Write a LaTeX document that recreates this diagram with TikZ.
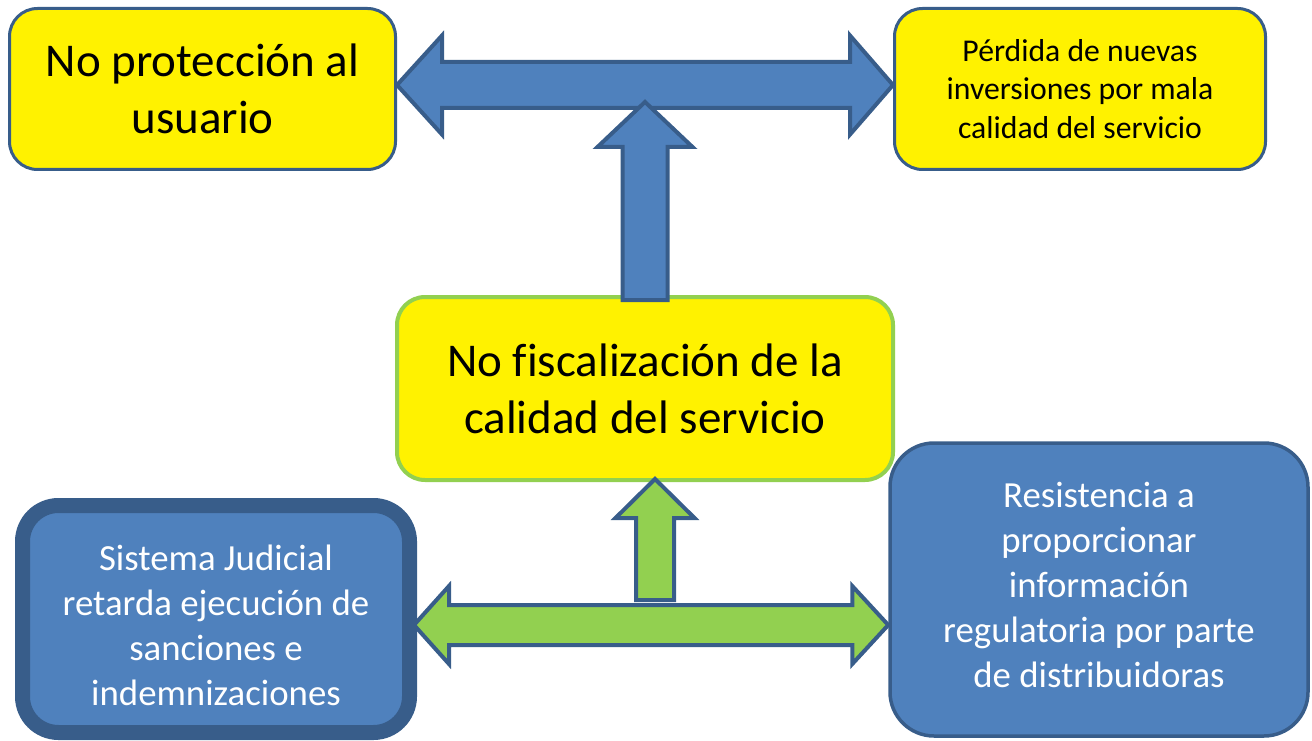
\documentclass[tikz,border=0pt]{standalone}
\usepackage{fontspec}
\setmainfont{Carlito}[Ligatures=NoCommon]
\usetikzlibrary{calc}
\definecolor{boxblue}{RGB}{79,129,189}
\definecolor{edgeblue}{RGB}{56,93,138}
\definecolor{leafgreen}{RGB}{146,208,80}
\tikzset{
  yellowbox/.style={draw=edgeblue, line width=3pt, fill=yellow, rounded corners=28pt,
    align=center, inner sep=0pt},
  bluebox/.style={draw=edgeblue, fill=boxblue, text=white, align=center, inner sep=0pt},
  bluetext/.style={text=white, align=center, font=\fontsize{36.8}{45}\selectfont},
  bluearrow/.style={draw=edgeblue, line width=4pt, fill=boxblue},
  greenarrow/.style={draw=edgeblue, line width=4pt, fill=leafgreen},
  bigtext/.style={font=\fontsize{47}{57}\selectfont},
  smalltext/.style={font=\fontsize{31.7}{38.7}\selectfont},
}

\begin{document}
\begin{tikzpicture}[x=1pt,y=-1pt]
\useasboundingbox (0,0) rectangle (1312,741);
% effects
\node[yellowbox, bigtext, minimum width=386pt, minimum height=161pt] (usuario)
  at (202.5,89) {No protección al\\usuario};
\node[yellowbox, smalltext, minimum width=371pt, minimum height=161pt] (perdida)
  at (1080,89) {Pérdida de nuevas\\inversiones por mala\\calidad del servicio};
% problem
\node[yellowbox, bigtext, draw=leafgreen, line width=4pt, minimum width=496pt, minimum height=183pt] (fiscal)
  at (645,388.5) {No fiscalización de la\\calidad del servicio};
% causes
\node[bluebox, line width=15pt, rounded corners=36pt, minimum width=387pt, minimum height=227pt,
  label={[bluetext, yshift=-6pt]center:Sistema Judicial\\retarda ejecución de\\sanciones e\\indemnizaciones}] (judicial)
  at (216,619) {};
\node[bluebox, line width=3.5pt, rounded corners=44pt, minimum width=418pt, minimum height=293pt,
  label={[bluetext, yshift=5pt]center:Resistencia a\\proporcionar\\información\\regulatoria por parte\\de distribuidoras}] (resist)
  at (1099,589.5) {};

\coordinate (tl) at ([yshift=4pt]usuario.east);
\coordinate (tr) at ([yshift=4pt]perdida.west);
\draw[bluearrow] (tl) -- ++(45,-49.5) -- ++(0,26.5) -- ($(tr)+(-43,-23)$) -- ++(0,-26.5) -- (tr)
  -- ++(-43,49.5) -- ++(0,-26.5) -- ($(tl)+(45,23)$) -- ++(0,26.5) -- cycle;
\coordinate (ub) at (fiscal.north);
\draw[bluearrow] ($(ub)+(-22.5,5)$) -- ++(0,-153) -- ++(-25,0) -- ($(ub)+(0,-193)$)
  -- ++(47.5,45) -- ++(-25,0) -- ++(0,153) -- cycle;

\coordinate (gb) at ([xshift=10pt]fiscal.south);
\draw[greenarrow] ($(gb)+(-19,118)$) -- ++(0,-82) -- ++(-20.5,0) -- ($(gb)+(0,-3)$)
  -- ++(39.5,39) -- ++(-20.5,0) -- ++(0,82) -- cycle;
\coordinate (gl) at ([xshift=-3pt,yshift=-6pt]judicial.east);
\coordinate (gr) at (gl -| resist.west);
\draw[greenarrow] (gl) -- ++(35,-39) -- ++(0,19) -- ($(gr)+(-36,-20)$) -- ++(0,-19) -- (gr)
  -- ++(-36,39) -- ++(0,-19) -- ($(gl)+(35,20)$) -- ++(0,19) -- cycle;
\end{tikzpicture}
\end{document}
